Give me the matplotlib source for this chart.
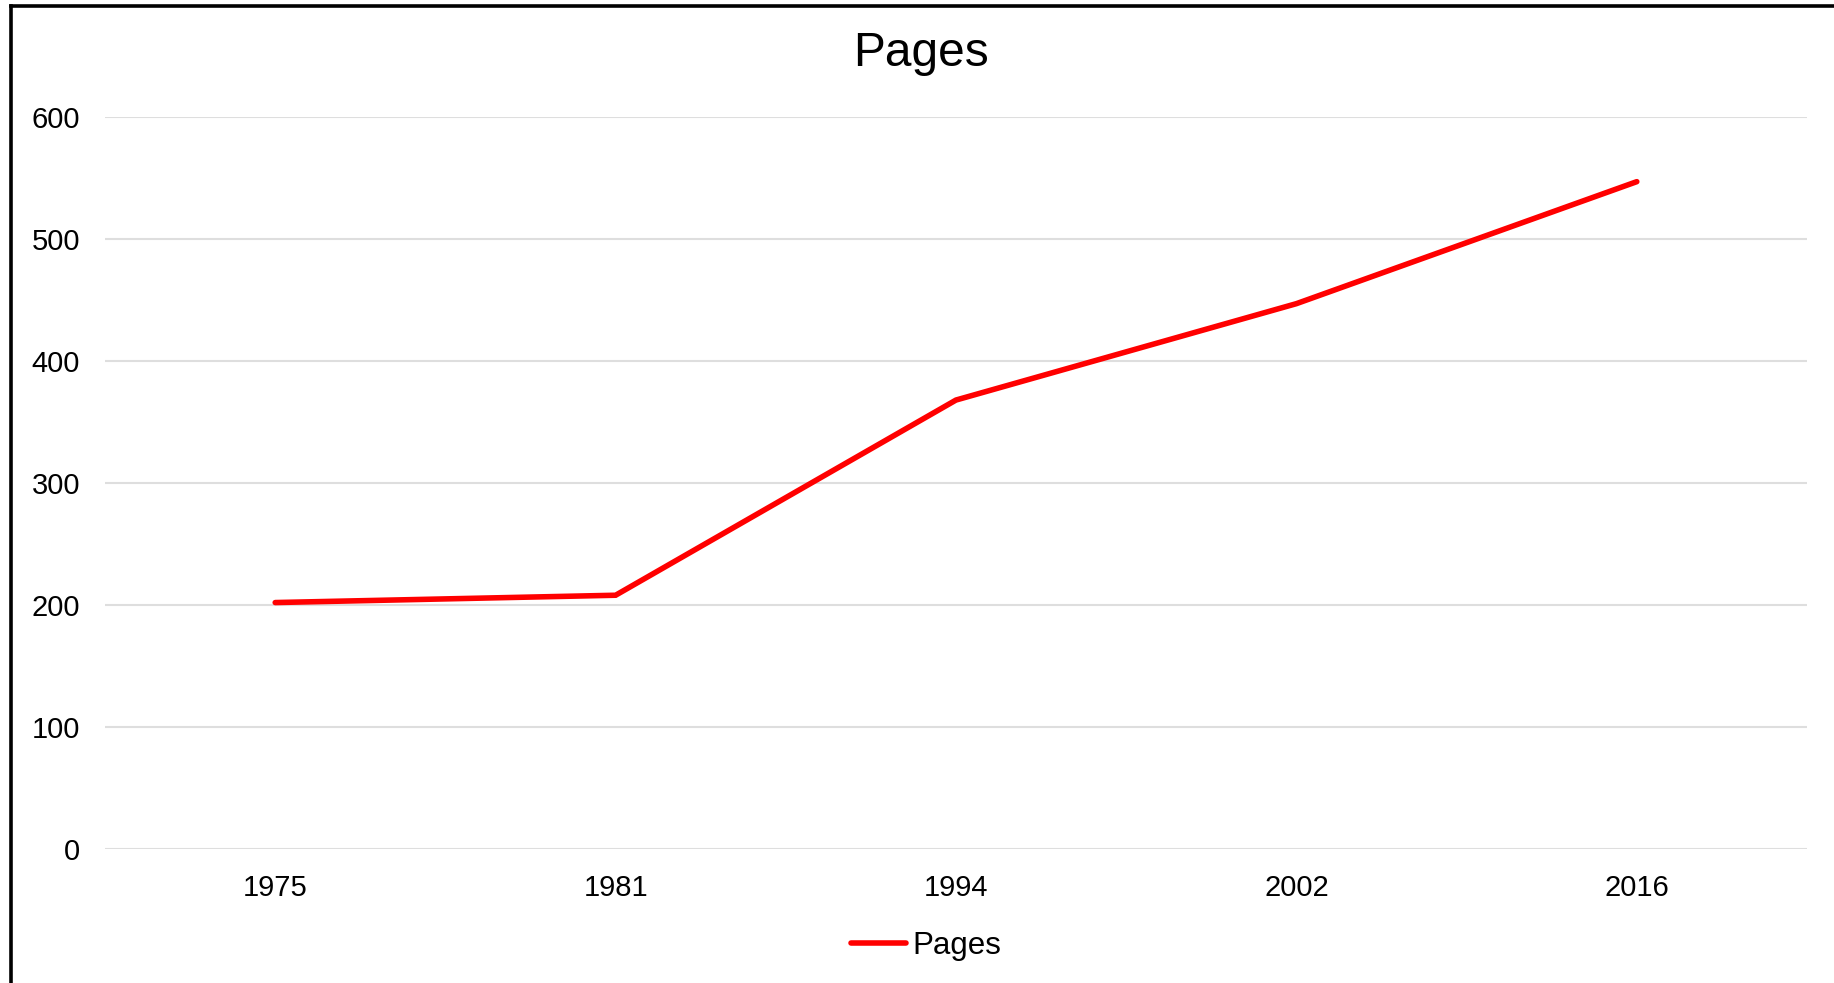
import matplotlib
matplotlib.use("Agg")
import matplotlib.pyplot as plt
from matplotlib.lines import Line2D

plt.rcParams['font.family'] = ['Liberation Sans', 'DejaVu Sans']

years = ["1975", "1981", "1994", "2002", "2016"]
pages = [202, 208, 368, 447, 547]
series_name = "Pages"
yticks = [0, 100, 200, 300, 400, 500, 600]

W, H = 1834, 983
fig = plt.figure(figsize=(W / 100, H / 100), dpi=100)
ax = fig.add_axes([105 / W, 134 / H, (1807 - 105) / W, (849 - 117) / H])

x = list(range(len(years)))
ax.plot(x, pages, color="#FF0000", lw=4.0, solid_capstyle="round",
        solid_joinstyle="miter", label=series_name, zorder=3)

ax.set_xlim(-0.5, len(years) - 0.5)
ax.set_ylim(0, 600)
ax.set_yticks(yticks)
ax.set_xticks(x)
ax.set_xticklabels(years)
ax.tick_params(axis="both", length=0, labelsize=21, colors="black")
ax.tick_params(axis="y", pad=18)
ax.tick_params(axis="x", pad=18)
ax.grid(axis="y", color="#dedede", lw=1.5)
ax.set_axisbelow(True)
for s in ax.spines.values():
    s.set_visible(False)

fig.text(921 / W, 1 - 54 / H, "Pages", ha="center", va="center", fontsize=34.5)

leg = fig.legend(loc="center", bbox_to_anchor=(926 / W, 37 / H), frameon=False,
                 fontsize=22.5, handlelength=1.75, handletextpad=0.2)

# outer frame (left and top edges visible)
fig.add_artist(Line2D([10.5 / W, 10.5 / W], [0, 1 - 6 / H], transform=fig.transFigure,
                      color="black", lw=2.6))
fig.add_artist(Line2D([10.5 / W, 1], [1 - 6 / H, 1 - 6 / H], transform=fig.transFigure,
                      color="black", lw=2.6))

fig.savefig("out.png", dpi=100)
